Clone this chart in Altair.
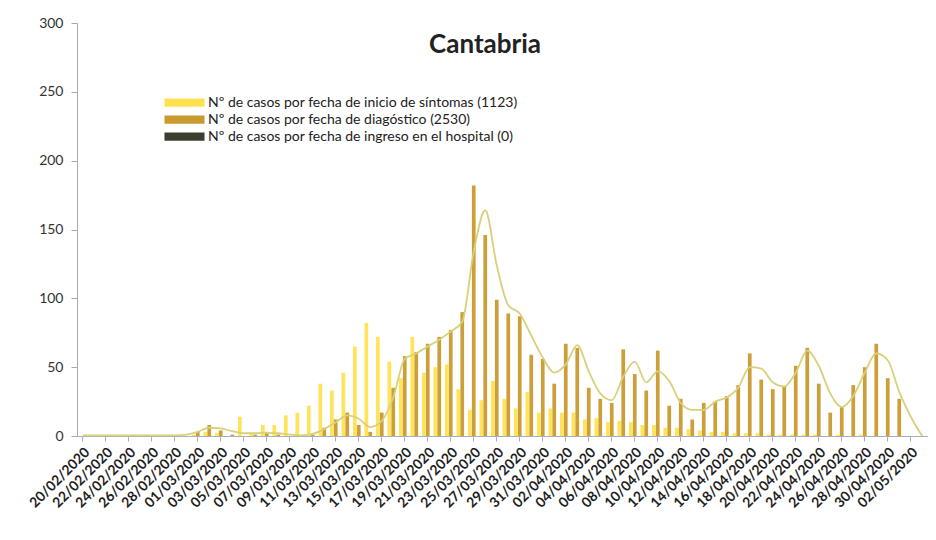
import altair as alt
import pandas as pd

# Categories: one per day, 20/02/2020 .. 03/05/2020
fechas = [d.strftime("%d/%m/%Y") for d in pd.date_range("2020-02-20", "2020-05-03")]
etiquetas = fechas[::2]

titulo = "Cantabria"
series = [
    "Nº de casos por fecha de inicio de síntomas (1123)",
    "Nº de casos por fecha de diagóstico (2530)",
    "Nº de casos por fecha de ingreso en el hospital (0)",
]
colores = ["#FFE150", "#C99A2E", "#3E3E30"]

sintomas = [0, 0, 0, 0, 0, 0, 0, 0, 0, 0,
            1, 3, 2, 0, 14, 2, 8, 8, 15, 17,
            22, 38, 33, 46, 65, 82, 72, 54, 42, 72,
            46, 50, 52, 34, 19, 26, 40, 27, 20, 32,
            17, 20, 17, 17, 12, 13, 10, 11, 10, 8,
            8, 6, 6, 5, 4, 3, 3, 2, 2, 2,
            1, 1, 1, 1, 1, 0, 1, 0, 1, 0,
            0, 0, 0, 0]

diagnostico = [0, 0, 0, 0, 0, 0, 0, 0, 0, 0,
               3, 8, 4, 1, 0, 1, 2, 1, 0, 0,
               1, 6, 12, 17, 8, 3, 17, 35, 58, 61,
               67, 72, 77, 90, 182, 146, 99, 89, 87, 59,
               56, 38, 67, 64, 35, 27, 24, 63, 45, 33,
               62, 22, 27, 12, 24, 25, 29, 37, 60, 41,
               34, 36, 51, 64, 38, 17, 21, 37, 50, 67,
               42, 27, 0, 0]

hospital = [0] * 74

media = [0.5, 0.5, 0.5, 0.5, 0.5, 0.5, 0.5, 0.5, 0.5, 1,
         3, 6, 5.5, 3.5, 2, 2, 2.5, 2, 1, 0.5,
         1.5, 5, 10, 15, 12.5, 6.5, 11, 28, 56, 60,
         65, 70, 76, 83, 134, 164, 124, 95, 89, 73,
         57, 46, 52, 66, 47, 31, 26, 43, 54, 39,
         47, 40, 24, 19, 19, 25, 28, 35, 50, 49,
         39, 36, 46, 62, 51, 31, 21, 29, 46, 60,
         55, 32, 14, 0]

filas = []
for i, f in enumerate(fechas):
    for s, vals in zip(series, [sintomas, diagnostico, hospital]):
        filas.append({"fecha": f, "serie": s, "valor": vals[i]})
df_barras = pd.DataFrame(filas)
df_linea = pd.DataFrame({"fecha": fechas, "media": media})
df_titulo = pd.DataFrame({"t": [titulo]})

FONT = "Lato"

x_enc = alt.X(
    "fecha:N",
    sort=fechas,
    scale=alt.Scale(domain=fechas, paddingInner=0, paddingOuter=0),
    axis=alt.Axis(
        values=etiquetas,
        title=None,
        labelAngle=-45,
        labelFont=FONT,
        labelFontSize=14,
        labelFontWeight="bold",
        labelColor="#1e1e1e",
        labelPadding=4,
        domainColor="#A9B0B8",
        tickColor="#A9B0B8",
        tickSize=5,
        labelOverlap=False,
    ),
)

barras = alt.Chart(df_barras).mark_bar(opacity=0.95).encode(
    x=x_enc,
    xOffset=alt.XOffset("serie:N", sort=series,
                        scale=alt.Scale(domain=series, paddingInner=0.05)),
    y=alt.Y(
        "valor:Q",
        scale=alt.Scale(domain=[0, 300], nice=False),
        axis=alt.Axis(
            values=[0, 50, 100, 150, 200, 250, 300],
            title=None,
            grid=False,
            labelFont=FONT,
            labelFontSize=14,
            labelColor="#333333",
            labelPadding=8,
            tickSize=6,
            tickColor="#A9A9A9",
            domainColor="#A9A9A9",
        ),
    ),
    color=alt.Color(
        "serie:N",
        sort=series,
        scale=alt.Scale(domain=series, range=colores),
        legend=alt.Legend(
            title=None,
            orient="none",
            legendX=100,
            legendY=72,
            symbolType="M-2.67,-0.55H2.67V0.55H-2.67Z",
            symbolSize=225,
            symbolStrokeWidth=0,
            symbolOpacity=1,
            labelFont=FONT,
            labelFontSize=14,
            labelColor="#222222",
            labelOffset=16,
            rowPadding=2,
            labelLimit=500,
        ),
    ),
)

linea = alt.Chart(df_linea).mark_line(
    color="#D8D07A", strokeWidth=1.8, interpolate="monotone"
).encode(
    x=alt.X("fecha:N", sort=fechas),
    y=alt.Y("media:Q"),
)

cabecera = alt.Chart(df_titulo).mark_text(
    font=FONT, fontSize=26, fontWeight="bold", color="#222222",
    align="center", baseline="middle",
).encode(
    text="t:N",
    x=alt.value(408),
    y=alt.value(22),
)

chart = alt.layer(barras, linea, cabecera).properties(
    width=851,
    height=413,
    padding={"left": 69, "top": 15, "right": 0, "bottom": 95},
    autosize="none",
).configure_view(stroke=None)

chart.save("out.html", embed_options={"renderer": "svg", "actions": False})
